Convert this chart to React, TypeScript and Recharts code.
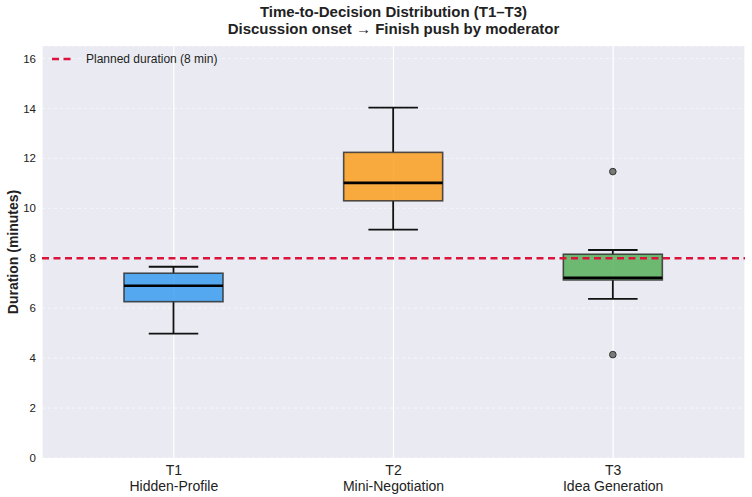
import React from "react"
import { ComposedChart, Bar, XAxis, YAxis, CartesianGrid, ReferenceLine } from "recharts"

// Tasks on the x axis
const taskCodes = ["T1", "T2", "T3"]
const taskNames = ["Hidden-Profile", "Mini-Negotiation", "Idea Generation"]

// Five-number summaries per task (minutes)
const whiskerLow = [4.98, 9.15, 6.37]
const quartile1 = [6.26, 10.3, 7.13]
const medians = [6.9, 11.02, 7.22]
const quartile3 = [7.4, 12.24, 8.16]
const whiskerHigh = [7.66, 14.03, 8.33]
const outliers = [[], [], [11.47, 4.14]]

const plannedDuration = 8
const yTicks = [0, 2, 4, 6, 8, 10, 12, 14, 16]

const boxColors = ["#2d97ef", "#fd9a11", "#4ead50"]
const FONT = '"Liberation Sans", Arial, sans-serif'

const data = taskCodes.map((code, i) => ({
  code,
  name: taskNames[i],
  box: [quartile1[i], quartile3[i]],
  low: whiskerLow[i],
  q1: quartile1[i],
  median: medians[i],
  q3: quartile3[i],
  high: whiskerHigh[i],
  outliers: outliers[i],
  color: boxColors[i],
}))

// Draws a full box-and-whisker glyph; the value->pixel mapping comes from the bar's own q1..q3 extent
const BoxShape = (props: any) => {
  const { x, y, width, height, payload } = props
  const top = Math.min(y, y + height)
  const bottom = Math.max(y, y + height)
  const ppu = (bottom - top) / (payload.q3 - payload.q1)
  const toY = (v: number) => bottom - (v - payload.q1) * ppu
  const cx = x + width / 2
  const cap = width / 4
  const yLow = toY(payload.low)
  const yHigh = toY(payload.high)
  const yMed = toY(payload.median)
  return (
    <g>
      <line x1={cx} x2={cx} y1={bottom} y2={yLow} stroke="#111" strokeWidth={1.8} />
      <line x1={cx} x2={cx} y1={top} y2={yHigh} stroke="#111" strokeWidth={1.8} />
      <line x1={cx - cap} x2={cx + cap} y1={yLow} y2={yLow} stroke="#111" strokeWidth={1.8} />
      <line x1={cx - cap} x2={cx + cap} y1={yHigh} y2={yHigh} stroke="#111" strokeWidth={1.8} />
      <rect
        x={x}
        y={top}
        width={width}
        height={bottom - top}
        fill={payload.color}
        fillOpacity={0.8}
        stroke="#333"
        strokeOpacity={0.85}
        strokeWidth={1.6}
      />
      <line x1={x} x2={x + width} y1={yMed} y2={yMed} stroke="#000" strokeWidth={2.6} />
      {payload.outliers.map((v: number, k: number) => (
        <circle key={k} cx={cx} cy={toY(v)} r={3.3} fill="#7a7a7a" stroke="#333" strokeWidth={1} />
      ))}
    </g>
  )
}

const TaskTick = ({ x, y, payload }: any) => {
  const i = taskCodes.indexOf(payload.value)
  return (
    <text x={x} y={y} textAnchor="middle" fill="#222" fontSize={14} fontFamily={FONT}>
      <tspan x={x} dy={15}>{payload.value}</tspan>
      <tspan x={x} dy={16}>{taskNames[i]}</tspan>
    </text>
  )
}

const YLabel = ({ viewBox }: any) => {
  const cy = viewBox.y + viewBox.height / 2
  return (
    <text
      x={13}
      y={cy}
      transform={`rotate(-90, 13, ${cy})`}
      textAnchor="middle"
      dominantBaseline="central"
      fontSize={14}
      fontWeight="bold"
      fill="#222"
      fontFamily={FONT}
    >
      Duration (minutes)
    </text>
  )
}

export default function App() {
  return (
    <div style={{ position: "absolute", left: 0, top: 0, width: 752, height: 497, background: "#fff", fontFamily: FONT }}>
      <div
        style={{
          position: "absolute",
          left: 42,
          width: 703,
          top: 3,
          textAlign: "center",
          fontSize: 15,
          fontWeight: "bold",
          lineHeight: "17px",
          color: "#222",
        }}
      >
        <div>Time-to-Decision Distribution (T1–T3)</div>
        <div>Discussion onset → Finish push by moderator</div>
      </div>
      <ComposedChart
        width={752}
        height={497}
        data={data}
        margin={{ top: 46, right: 7, bottom: 3, left: 0 }}
        style={{ position: "absolute", left: 0, top: 0 }}
      >
        <CartesianGrid horizontal={false} vertical stroke="#ffffff" strokeWidth={1.2} fill="#eaeaf2" />
        <CartesianGrid horizontal vertical={false} stroke="#ffffff" strokeDasharray="3 3" strokeOpacity={0.6} />
        <XAxis
          dataKey="code"
          tick={<TaskTick />}
          tickLine={false}
          axisLine={false}
          tickSize={0}
          height={36}
          padding={{ left: 22, right: 22 }}
          interval={0}
        />
        <YAxis
          domain={[0, 16.5]}
          ticks={yTicks}
          allowDataOverflow
          width={42}
          tickLine={false}
          axisLine={false}
          tickSize={0}
          tickMargin={6}
          tick={{ fill: "#222", fontSize: 11.5, fontFamily: FONT }}
          label={<YLabel />}
        />
        <Bar dataKey="box" barSize={99} shape={<BoxShape />} isAnimationActive={false} />
        <ReferenceLine y={plannedDuration} stroke="#dc143c" strokeWidth={2.4} strokeDasharray="7 4.5" />
      </ComposedChart>
      <div
        style={{
          position: "absolute",
          left: 52,
          top: 52,
          display: "flex",
          alignItems: "center",
          fontSize: 12,
          color: "#222",
        }}
      >
        <svg width={23} height={6} style={{ marginRight: 11 }}>
          <line x1={0} x2={23} y1={3} y2={3} stroke="#dc143c" strokeWidth={2.4} strokeDasharray="7 4.5" />
        </svg>
        <span>Planned duration (8 min)</span>
      </div>
    </div>
  )
}
